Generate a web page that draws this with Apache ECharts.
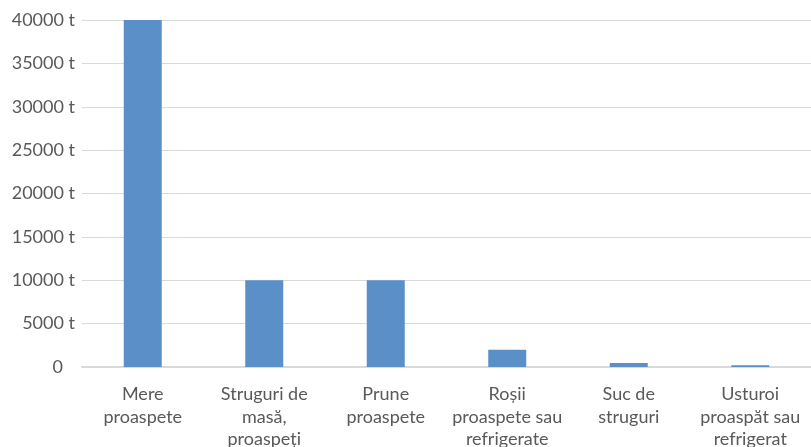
<!DOCTYPE html>
<html><head><meta charset="utf-8">
<script src="https://cdn.jsdelivr.net/npm/echarts@6/dist/echarts.min.js"></script>
<style>html,body{margin:0;padding:0;background:#fff}#c{width:811px;height:447px}</style>
</head><body><div id="c"></div>
<script>
const categories = ["Mere\nproaspete", "Struguri de\nmasă,\nproaspeți", "Prune\nproaspete", "Roșii\nproaspete sau\nrefrigerate", "Suc de\nstruguri", "Usturoi\nproaspăt sau\nrefrigerat"];
const values = [40000, 10000, 10000, 2000, 450, 200];
const chart = echarts.init(document.getElementById('c'));
chart.setOption({
  animation: false,
  grid: {left: 82, right: 0, top: 20, bottom: 80, outerBoundsMode: 'none', containLabel: false},
  xAxis: {
    type: 'category', data: categories,
    axisLine: {lineStyle: {color: '#d9d9d9', width: 2}},
    axisTick: {show: false},
    axisLabel: {color: '#595959', fontFamily: 'Lato', fontSize: 18, lineHeight: 22.5, margin: 16, interval: 0}
  },
  yAxis: {
    type: 'value', min: 0, max: 40000, interval: 5000,
    axisLine: {show: false}, axisTick: {show: false},
    splitLine: {lineStyle: {color: '#d9d9d9', width: 1}},
    axisLabel: {color: '#595959', fontFamily: 'Lato', fontSize: 18, margin: 7,
      formatter: v => v === 0 ? '{z|0}' : v + ' t',
      rich: {z: {color: '#595959', fontFamily: 'Lato', fontSize: 18, padding: [0, 12, 0, 0]}}}
  },
  series: [{type: 'bar', data: values, barWidth: 38, itemStyle: {color: '#5b8fc7'}}]
});
</script></body></html>
